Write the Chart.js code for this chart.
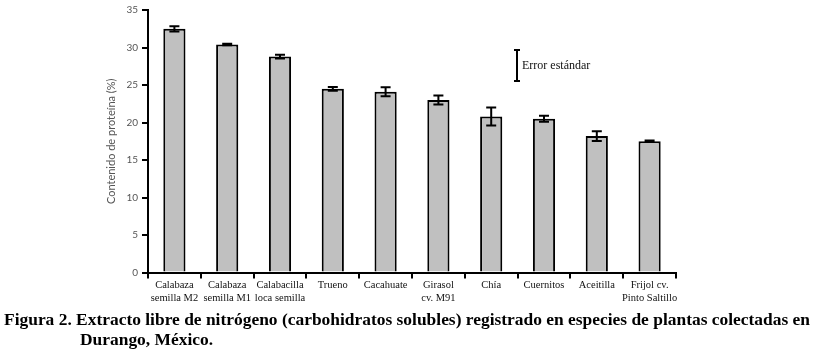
<!DOCTYPE html>
<html>
<head>
<meta charset="utf-8">
<script src="https://cdn.jsdelivr.net/npm/chart.js@4.4.1/dist/chart.umd.min.js"></script>
<style>
html,body{margin:0;padding:0;background:#fff;}
#wrap{position:relative;width:814px;height:351px;}
</style>
</head>
<body>
<div id="wrap"><canvas id="c" width="814" height="351"></canvas></div>
<script>
const categories = [
  ["Calabaza","semilla M2"],
  ["Calabaza","semilla M1"],
  ["Calabacilla","loca semilla"],
  ["Trueno"],
  ["Cacahuate"],
  ["Girasol","cv. M91"],
  ["Chía"],
  ["Cuernitos"],
  ["Aceitilla"],
  ["Frijol cv.","Pinto Saltillo"]
];
const proteinValues = [32.5, 30.4, 28.8, 24.5, 24.1, 23.0, 20.8, 20.5, 18.2, 17.5];
const standardErrors = [0.35, 0.1, 0.25, 0.25, 0.6, 0.6, 1.2, 0.4, 0.65, 0.1];
const yTicks = [0, 5, 10, 15, 20, 25, 30, 35];
const yTitle = "Contenido de proteína (%)";
const legendText = "Error estándar";
const captionLine1 = "Figura 2. Extracto libre de nitrógeno (carbohidratos solubles) registrado en especies de plantas colectadas en";
const captionLine2 = "Durango, México.";

const errorBarPlugin = {
  id: 'errorBars',
  afterDatasetsDraw(chart) {
    const ctx = chart.ctx;
    const meta = chart.getDatasetMeta(0);
    const y = chart.scales.y;
    ctx.save();
    ctx.strokeStyle = '#000';
    ctx.lineWidth = 2;
    meta.data.forEach((bar, i) => {
      const v = proteinValues[i], e = standardErrors[i];
      const yt = y.getPixelForValue(v + e);
      const yb = y.getPixelForValue(v - e);
      const x = bar.x;
      const cap = 5;
      ctx.beginPath();
      ctx.moveTo(x, yt); ctx.lineTo(x, yb);
      ctx.moveTo(x - cap, yt); ctx.lineTo(x + cap, yt);
      ctx.moveTo(x - cap, yb); ctx.lineTo(x + cap, yb);
      ctx.stroke();
    });
    ctx.restore();
  }
};

const annotationPlugin = {
  id: 'annot',
  afterDraw(chart) {
    const ctx = chart.ctx;
    ctx.save();
    // legend error glyph
    ctx.strokeStyle = '#000';
    ctx.lineWidth = 2;
    const lx = 517, ly1 = 50, ly2 = 81;
    ctx.beginPath();
    ctx.moveTo(lx, ly1); ctx.lineTo(lx, ly2);
    ctx.moveTo(lx - 3, ly1); ctx.lineTo(lx + 3, ly1);
    ctx.moveTo(lx - 3, ly2); ctx.lineTo(lx + 3, ly2);
    ctx.stroke();
    ctx.fillStyle = '#111';
    ctx.font = '12px "Liberation Serif"';
    ctx.textBaseline = 'middle';
    ctx.textAlign = 'left';
    ctx.fillText(legendText, 522, 66);
    // caption
    ctx.fillStyle = '#000';
    ctx.font = 'bold 17px "Liberation Serif"';
    ctx.textBaseline = 'alphabetic';
    const w1 = ctx.measureText(captionLine1).width;
    const sx = 806 / w1;
    ctx.save();
    ctx.translate(4, 325);
    ctx.scale(sx, 1);
    ctx.fillText(captionLine1, 0, 0);
    ctx.restore();
    ctx.save();
    ctx.translate(80, 345);
    ctx.scale(sx, 1);
    ctx.fillText(captionLine2, 0, 0);
    ctx.restore();
    ctx.restore();
  }
};

new Chart(document.getElementById('c'), {
  type: 'bar',
  data: {
    labels: categories,
    datasets: [{
      data: proteinValues,
      backgroundColor: '#c0c0c0',
      borderColor: '#000',
      borderWidth: 2,
      borderSkipped: 'bottom',
      barPercentage: 0.42,
      categoryPercentage: 1.0
    }]
  },
  options: {
    responsive: false,
    animation: false,
    devicePixelRatio: 1,
    layout: { padding: { top: 8, right: 138, left: 0, bottom: 0 } },
    plugins: { legend: { display: false }, tooltip: { enabled: false } },
    scales: {
      x: {
        offset: true,
        grid: { offset: true, drawOnChartArea: false, color: '#000', lineWidth: 2, tickLength: 6, tickWidth: 2, tickColor: '#000' },
        border: { color: '#000', width: 2 },
        ticks: { color: '#111', font: { family: '"Liberation Serif"', size: 10.5, lineHeight: 1.25 }, padding: 0, maxRotation: 0, autoSkip: false },
        afterFit(scale) { scale.height = 78.5; }
      },
      y: {
        min: 0, max: 35,
        afterBuildTicks(scale) { scale.ticks = yTicks.map(v => ({ value: v })); },
        grid: { drawOnChartArea: false, color: '#000', lineWidth: 2, tickLength: 6, tickWidth: 2, tickColor: '#000' },
        border: { color: '#000', width: 2 },
        ticks: { color: '#555', font: { family: 'Lato', size: 10 }, padding: 4 },
        title: { display: true, text: yTitle, color: '#555', font: { family: 'Lato', size: 11 }, padding: { top: 105, bottom: 0 } },
        afterFit(scale) { scale.width = 148; }
      }
    }
  },
  plugins: [errorBarPlugin, annotationPlugin]
});
</script>
</body>
</html>
